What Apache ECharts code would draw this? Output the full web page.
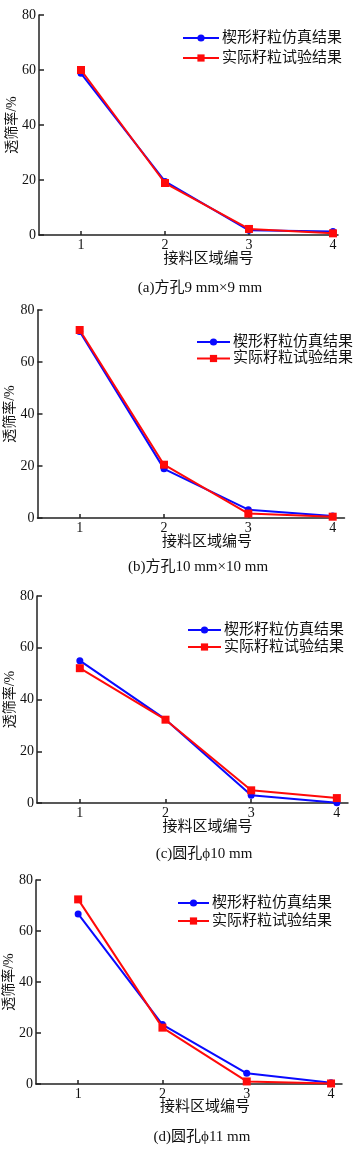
<!DOCTYPE html>
<html>
<head>
<meta charset="utf-8">
<script src="https://cdn.jsdelivr.net/npm/echarts@6/dist/echarts.min.js"></script>
<style>
html,body{margin:0;padding:0;background:#fff;}
#chart{width:358px;height:1154px;}
</style>
</head>
<body>
<div id="chart"></div>
<script>
// ---- data ----
const xPositions = [1, 2, 3, 4];
const xTickLabels = ['1', '2', '3', '4'];
const yTicks = [0, 20, 40, 60, 80];
const seriesNames = ['楔形籽粒仿真结果', '实际籽粒试验结果'];
const captions = ['(a)方孔9 mm×9 mm', '(b)方孔10 mm×10 mm', '(c)圆孔ϕ10 mm', '(d)圆孔ϕ11 mm'];
const xAxisTitle = '接料区域编号';
const yAxisTitle = '透筛率/%';

const simA = [58.8, 19.5, 1.7, 1.3];
const expA = [60.0, 18.9, 2.2, 0.6];
const simB = [71.7, 18.9, 3.2, 0.8];
const expB = [72.3, 20.5, 1.7, 0.5];
const simC = [55.0, 32.3, 3.0, 0.1];
const expC = [52.1, 32.2, 4.9, 1.9];
const simD = [66.7, 23.3, 4.2, 0.5];
const expD = [72.4, 22.1, 1.0, 0.2];

// ---- layout ----
const FONT = "'Liberation Serif', 'Noto Sans CJK SC', serif";
const panels = [
  {sim: simA, exp: expA, grid: {left: 39, top: 15, height: 220, width: 299}, xMax: 4.06,
   legend: {left: 182, top: 30.5, itemWidth: 36, itemGap: 5}, cap: [200, 288], namePad: 40, nameGap: 16.5},
  {sim: simB, exp: expB, grid: {left: 37.5, top: 310, height: 208, width: 307}, xMax: 4.14,
   legend: {left: 196, top: 334.5, itemWidth: 33, itemGap: 1.5}, cap: [198, 567], namePad: 32, nameGap: 16.5},
  {sim: simC, exp: expC, grid: {left: 37, top: 596, height: 207, width: 311}, xMax: 4.13,
   legend: {left: 187, top: 622.5, itemWidth: 33, itemGap: 2}, cap: [204, 854], namePad: 30, nameGap: 16.5},
  {sim: simD, exp: expD, grid: {left: 36, top: 880, height: 204, width: 306}, xMax: 4.13,
   legend: {left: 177, top: 895.5, itemWidth: 31, itemGap: 3}, cap: [202, 1137], namePad: 32, nameGap: 16}
];

const axisColor = '#222';
const option = {
  animation: false,
  backgroundColor: '#fff',
  textStyle: {fontFamily: FONT},
  grid: [], xAxis: [], yAxis: [], series: [], legend: [], graphic: []
};

panels.forEach((p, i) => {
  option.grid.push(Object.assign({containLabel: false, outerBoundsMode: 'none'}, p.grid));
  option.xAxis.push({
    type: 'value', gridIndex: i, min: 0.5, max: p.xMax,
    name: xAxisTitle, nameLocation: 'middle', nameGap: p.nameGap, nameMoveOverlap: false,
    nameTextStyle: {fontFamily: FONT, fontSize: 15, color: '#111', padding: [0, 0, 0, p.namePad]},
    axisLine: {show: true, onZero: false, lineStyle: {color: axisColor, width: 1.5}},
    axisTick: {show: true, inside: true, length: 4, customValues: xPositions, lineStyle: {color: axisColor, width: 1.5}},
    axisLabel: {show: true, margin: 3, customValues: xPositions,
      formatter: v => xTickLabels[xPositions.indexOf(v)],
      fontFamily: FONT, fontSize: 14, color: '#111'},
    splitLine: {show: false}
  });
  option.yAxis.push({
    type: 'value', gridIndex: i, min: 0, max: 80, interval: 20,
    name: yAxisTitle, nameLocation: 'middle', nameGap: 20, nameMoveOverlap: false,
    nameTextStyle: {fontFamily: FONT, fontSize: 14, color: '#111'},
    axisLine: {show: true, onZero: false, lineStyle: {color: axisColor, width: 1.5}},
    axisTick: {show: true, inside: true, length: 5, lineStyle: {color: axisColor, width: 1.5}},
    axisLabel: {margin: 3, fontFamily: FONT, fontSize: 14, color: '#111'},
    splitLine: {show: false}
  });
  option.series.push({
    name: seriesNames[0], type: 'line', xAxisIndex: i, yAxisIndex: i,
    data: xPositions.map((x, k) => [x, p.sim[k]]),
    symbol: 'circle', symbolSize: 7,
    lineStyle: {color: '#0a0aff', width: 2}, itemStyle: {color: '#0a0aff'}, z: 2
  });
  option.series.push({
    name: seriesNames[1], type: 'line', xAxisIndex: i, yAxisIndex: i,
    data: xPositions.map((x, k) => [x, p.exp[k]]),
    symbol: 'rect', symbolSize: 8,
    lineStyle: {color: '#ff0a0a', width: 2}, itemStyle: {color: '#ff0a0a'}, z: 3
  });
  option.legend.push({
    orient: 'vertical', left: p.legend.left, top: p.legend.top,
    itemWidth: p.legend.itemWidth, itemHeight: 9, itemGap: p.legend.itemGap,
    padding: 0, data: seriesNames, selectedMode: false,
    textStyle: {fontFamily: FONT, fontSize: 15, color: '#111', padding: [0, 0, 0, -2]}
  });
  option.graphic.push({
    type: 'text', x: p.cap[0], y: p.cap[1],
    style: {text: captions[i], align: 'center', verticalAlign: 'middle',
      font: '15px ' + FONT, fill: '#111'}
  });
});

const chart = echarts.init(document.getElementById('chart'), null, {renderer: 'canvas'});
chart.setOption(option);
</script>
</body>
</html>
